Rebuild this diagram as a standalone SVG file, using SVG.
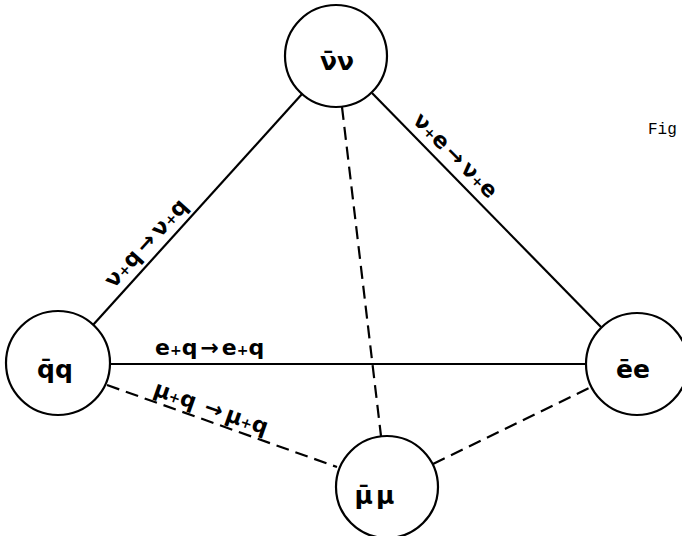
<svg xmlns="http://www.w3.org/2000/svg" width="682" height="536" viewBox="0 0 682 536">
<style>
.node{fill:#fff;stroke:#000;stroke-width:2.2}
.nt{font-family:"DejaVu Sans",sans-serif;font-weight:bold;font-size:25px;text-anchor:middle;fill:#000}
.lbl{font-family:"DejaVu Sans",sans-serif;font-weight:bold;font-size:22px;fill:#000}
.pl{font-size:14px}
.solid{stroke:#000;stroke-width:2.2;fill:none}
.dash{stroke:#000;stroke-width:2.2;fill:none;stroke-dasharray:13 7}
.fig{font-family:"Liberation Mono",monospace;font-size:16px;fill:#000}
</style>
<rect width="682" height="536" fill="#fff"/>
<g id="connectors">
<line class="solid" x1="93" y1="325" x2="302" y2="94"/>
<line class="solid" x1="372" y1="93" x2="601" y2="327"/>
<line class="solid" x1="110" y1="364" x2="586" y2="364"/>
<line class="dash" x1="342" y1="107" x2="381" y2="436"/>
<line class="dash" x1="107" y1="385" x2="337" y2="467"/>
<line class="dash" x1="433" y1="464" x2="591" y2="387"/>
<text class="lbl" transform="translate(151.4,247.9) rotate(-47.6)" text-anchor="middle">ν<tspan class="pl">+</tspan>q<tspan dx="4">→</tspan><tspan dx="4">ν</tspan><tspan class="pl">+</tspan>q</text>
<text class="lbl" transform="translate(450.3,160.6) rotate(45.4)" text-anchor="middle">ν<tspan class="pl">+</tspan>e<tspan dx="4">→</tspan><tspan dx="4">ν</tspan><tspan class="pl">+</tspan>e</text>
<text class="lbl" x="155" y="355">e<tspan class="pl">+</tspan>q<tspan dx="3">→</tspan><tspan dx="3">e</tspan><tspan class="pl">+</tspan>q</text>
<text class="lbl" transform="translate(208.6,414.8) rotate(19.6)" text-anchor="middle">μ<tspan class="pl">+</tspan>q<tspan dx="10">→</tspan><tspan dx="4">μ</tspan><tspan class="pl">+</tspan>q</text>
</g>
<g id="node-nunu">
<circle class="node" cx="336" cy="56" r="51"/>
<text class="nt" x="337" y="70">ν̄ν</text>
</g>
<g id="node-qq">
<circle class="node" cx="58" cy="363" r="52"/>
<text class="nt" x="55" y="378">q̄q</text>
</g>
<g id="node-ee">
<circle class="node" cx="637" cy="364" r="51"/>
<text class="nt" x="633" y="378">ēe</text>
</g>
<g id="node-mumu">
<circle class="node" cx="387" cy="487" r="51"/>
<text class="nt" x="376" y="504" letter-spacing="3">μ̄μ</text>
</g>
<text class="fig" x="648" y="134">Fig</text>
</svg>
